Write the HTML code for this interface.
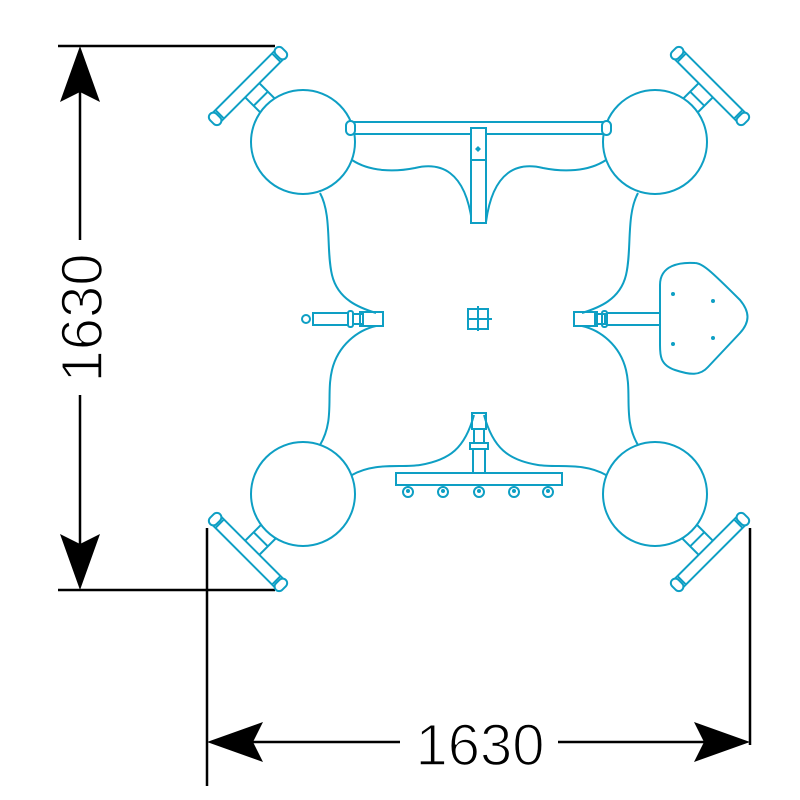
<!DOCTYPE html>
<html><head><style>html,body{margin:0;padding:0;background:#fff}svg{display:block}</style></head>
<body>
<svg width="800" height="800" viewBox="0 0 800 800" xmlns="http://www.w3.org/2000/svg">
<defs>
<g id="th" fill="#fff" stroke="#0e9fc4" stroke-width="2">
  <rect x="-10" y="5" width="20" height="30"/>
  <line x1="-10" y1="18" x2="10" y2="18"/>
  <rect x="-44" y="-6" width="88" height="12"/>
  <rect x="-51" y="-7" width="9" height="14" rx="4.5"/>
  <rect x="42" y="-7" width="9" height="14" rx="4.5"/>
  <line x1="-40" y1="-6" x2="-40" y2="6"/>
  <line x1="40" y1="-6" x2="40" y2="6"/>
</g>
</defs>
<!-- dimensions -->
<g stroke="#000" stroke-width="2.5" fill="none">
  <line x1="58" y1="46" x2="275" y2="46"/>
  <line x1="58" y1="590" x2="275" y2="590"/>
  <line x1="80" y1="60" x2="80" y2="240"/>
  <line x1="80" y1="395" x2="80" y2="580"/>
  <line x1="207" y1="528" x2="207" y2="786"/>
  <line x1="750" y1="528" x2="750" y2="745"/>
  <line x1="215" y1="742" x2="400" y2="742"/>
  <line x1="558" y1="742" x2="740" y2="742"/>
</g>
<g fill="#000">
  <path d="M80 46 L100 102 L80 92 L60 102 Z"/>
  <path d="M80 590 L100 534 L80 544 L60 534 Z"/>
  <path d="M207 742 L263 722 L253 742 L263 762 Z"/>
  <path d="M750 742 L694 722 L704 742 L694 762 Z"/>
</g>
<text x="480" y="765" font-family="Liberation Sans, sans-serif" font-size="58" text-anchor="middle" fill="#000" stroke="#fff" stroke-width="1.6">1630</text>
<text transform="translate(102,318) rotate(-90)" x="0" y="0" font-family="Liberation Sans, sans-serif" font-size="58" text-anchor="middle" fill="#000" stroke="#fff" stroke-width="1.6">1630</text>

<g fill="none" stroke="#0e9fc4" stroke-width="2">
  <!-- platform outline -->
  <path d="M320 193 C332 215 326 250 332 275 C338 300 360 308 376 313"/>
  <path d="M376 326 C358 330 338 345 332 370 C326 395 335 420 320 445"/>
  <path d="M638 193 C626 215 632 250 626 275 C620 300 598 308 582 313"/>
  <path d="M582 326 C600 330 620 345 626 370 C632 395 623 420 638 445"/>
  <path d="M352 160 C370 172 395 172 415 168 C440 162 465 170 472 222"/>
  <path d="M606 160 C588 172 563 172 543 168 C518 162 493 170 486 222"/>
  <path d="M352 475 C375 462 400 468 420 465 C450 460 465 448 474 415"/>
  <path d="M606 475 C583 462 558 468 538 465 C508 460 493 448 484 415"/>
  <!-- top bar -->
  <rect x="352" y="122" width="254" height="12" fill="#fff"/>
  <rect x="471" y="128" width="15" height="95" fill="#fff"/>
  <line x1="471" y1="160" x2="486" y2="160"/>
  <!-- left handle -->
  <circle cx="306" cy="319" r="4"/>
  <rect x="313" y="313" width="35" height="12"/>
  <rect x="348" y="311" width="5" height="16" rx="2"/>
  <rect x="353" y="314" width="10" height="10"/>
  <rect x="360" y="312" width="23" height="14"/>
  <!-- center -->
  <rect x="468" y="309" width="20" height="20"/>
  <line x1="467" y1="319" x2="492" y2="319"/>
  <line x1="478" y1="306" x2="478" y2="331"/>
  <!-- right seat -->
  <rect x="574" y="312" width="23" height="14"/>
  <rect x="595" y="314" width="10" height="10"/>
  <rect x="602" y="311" width="5" height="16" rx="2"/>
  <rect x="607" y="313" width="53" height="12"/>
  <path d="M660 285 C660 265 680 262 695 263 C702 263 710 270 740 300 C750 312 750 322 740 333 L708 367 C700 376 690 375 675 370 C660 365 660 355 660 345 Z" fill="#fff"/>
  <!-- bottom -->
  <rect x="472" y="413" width="14" height="16"/>
  <rect x="474" y="429" width="10" height="14"/>
  <rect x="470" y="443" width="18" height="6"/>
  <rect x="473" y="449" width="12" height="24"/>
  <rect x="396" y="473" width="166" height="12" fill="#fff"/>
  <circle cx="408" cy="492" r="5"/><circle cx="443" cy="492" r="5"/><circle cx="479" cy="492" r="5"/><circle cx="514" cy="492" r="5"/><circle cx="548" cy="492" r="5"/>
</g>
<g fill="#0e9fc4">
  <circle cx="408" cy="491" r="2"/><circle cx="443" cy="491" r="2"/><circle cx="479" cy="491" r="2"/><circle cx="514" cy="491" r="2"/><circle cx="548" cy="491" r="2"/>
  <circle cx="673" cy="294" r="2"/><circle cx="713" cy="301" r="2"/><circle cx="673" cy="344" r="2"/><circle cx="713" cy="338" r="2"/>
  <path d="M478 146 L481 149 L478 152 L475 149 Z"/>
</g>
<!-- T-handles -->
<use href="#th" transform="translate(248,86) rotate(-45)"/>
<use href="#th" transform="translate(710,86) rotate(45)"/>
<use href="#th" transform="translate(248,552) rotate(-135)"/>
<use href="#th" transform="translate(710,552) rotate(135)"/>
<!-- circles -->
<g fill="#fff" stroke="#0e9fc4" stroke-width="2">
  <circle cx="303" cy="142" r="52"/>
  <circle cx="655" cy="142" r="52"/>
  <circle cx="303" cy="494" r="52"/>
  <circle cx="655" cy="494" r="52"/>
</g>
<g fill="#fff" stroke="#0e9fc4" stroke-width="2">
  <rect x="346" y="121" width="9" height="14" rx="4.5"/>
  <rect x="602" y="121" width="9" height="14" rx="4.5"/>
</g>
</svg>
</body></html>
